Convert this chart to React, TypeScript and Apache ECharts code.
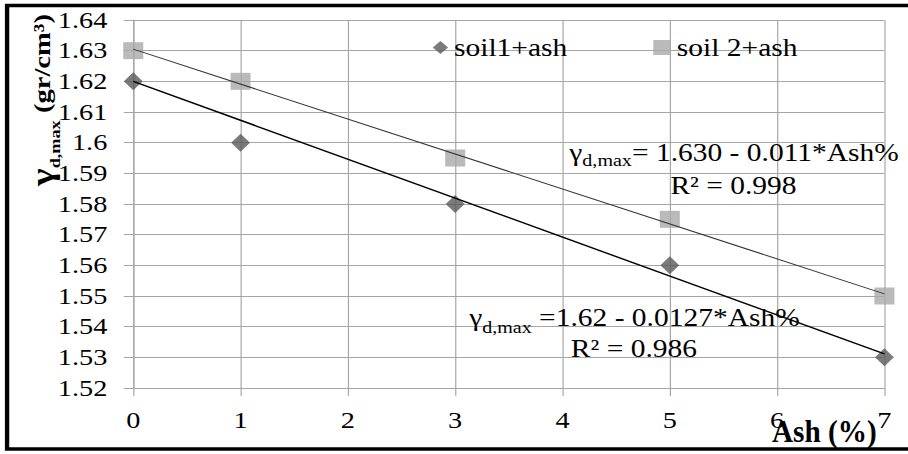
import React, { useEffect, useRef } from 'react';
import * as echarts from 'echarts';

// ---- data ----
const ashPercent = [0, 1, 3, 5, 7];
const soil1Ash = [1.62, 1.6, 1.58, 1.56, 1.53];
const soil2Ash = [1.63, 1.62, 1.595, 1.575, 1.55];
const seriesNames = ['soil1+ash', 'soil 2+ash'];
// trendline: [intercept, slope] and x range
const trendRange = [0, 7];
const soil1Fit = [1.62, -0.0127];
const soil2Fit = [1.6305, -0.0114];
// axes
const xMin = 0, xMax = 7, xStep = 1;
const yMin = 1.52, yMax = 1.64, yStep = 0.01;
// annotation texts
const eq2Main = '= 1.630 - 0.011*Ash%';
const eq2R2 = 'R² = 0.998';
const eq1Main = ' =1.62 - 0.0127*Ash%';
const eq1R2 = 'R² = 0.986';
const yTitleParts = ['γ', 'd,max', ' (gr/cm³)'];
const xTitle = 'Ash (%)';

const W = 770;
const H = 454;
const SX = 908 / W;
const serif = 'Liberation Serif';
const GRID = '#a6a6a6';

export default function App() {
  const ref = useRef<HTMLDivElement>(null);
  useEffect(() => {
    if (!ref.current) return;
    const chart = echarts.init(ref.current, null, { renderer: 'svg' });
    const pts = (ys: number[]) => ashPercent.map((x, i) => [x, ys[i]]);
    const trend = (f: number[]) => trendRange.map((x) => [x, f[0] + f[1] * x]);
    const eqRich = (lh: number) => ({
      g: { fontFamily: serif, fontSize: 25, lineHeight: lh, color: '#000' },
      s: { fontFamily: serif, fontSize: 17, color: '#000', verticalAlign: 'bottom' },
      m: { fontFamily: serif, fontSize: 25, lineHeight: lh, color: '#000' },
    });
    const option: any = {
      animation: false,
      backgroundColor: '#fff',
      textStyle: { fontFamily: serif },
      grid: { left: 113, right: 20, top: 20, bottom: 66 },
      xAxis: {
        type: 'value', min: xMin, max: xMax, interval: xStep,
        axisLine: { show: true, onZero: false, lineStyle: { color: GRID, width: 1 } },
        axisTick: { show: true, length: 8, lineStyle: { color: GRID, width: 1 } },
        axisLabel: { fontFamily: serif, fontSize: 24, color: '#000', margin: 20 },
        splitLine: { show: true, lineStyle: { color: GRID, width: 1 } },
      },
      yAxis: {
        type: 'value', min: yMin, max: yMax, interval: yStep,
        axisLine: { show: true, onZero: false, lineStyle: { color: GRID, width: 1 } },
        axisTick: { show: true, length: 8, lineStyle: { color: GRID, width: 1 } },
        axisLabel: {
          fontFamily: serif, fontSize: 24, color: '#000', margin: 22,
          formatter: (v: number) => String(Math.round(v * 100) / 100),
        },
        splitLine: { show: true, lineStyle: { color: GRID, width: 1 } },
      },
      legend: [
        {
          left: 367, top: 35, padding: 0, itemWidth: 13, itemHeight: 13,
          data: [{ name: seriesNames[0], icon: 'diamond' }],
          textStyle: { fontFamily: serif, fontSize: 25, color: '#000' },
        },
        {
          left: 554, top: 35, padding: 0, itemWidth: 15, itemHeight: 15,
          data: [{ name: seriesNames[1], icon: 'rect' }],
          textStyle: { fontFamily: serif, fontSize: 25, color: '#000' },
        },
      ],
      series: [
        {
          name: seriesNames[0], type: 'scatter', symbol: 'diamond', symbolSize: [16, 18],
          itemStyle: { color: '#5a5a5a' }, data: pts(soil1Ash), z: 2,
        },
        {
          name: seriesNames[1], type: 'scatter', symbol: 'rect', symbolSize: [17, 17],
          itemStyle: { color: '#a9a9a9' }, data: pts(soil2Ash), z: 2,
        },
        {
          name: 'trend1', type: 'line', data: trend(soil1Fit), symbol: 'none', z: 3,
          lineStyle: { color: '#000', width: 1.4 }, silent: true,
        },
        {
          name: 'trend2', type: 'line', data: trend(soil2Fit), symbol: 'none', z: 3,
          lineStyle: { color: '#333', width: 1 }, silent: true,
        },
      ],
      graphic: [
        {
          type: 'rect', z: 100, silent: true,
          shape: { x: 6, y: 5.5, width: 790, height: 443.5 },
          style: { fill: 'none', stroke: '#000', lineWidth: 3.7 },
        },
        {
          type: 'text', z: 50, x: 36, y: 100, rotation: Math.PI / 2, scaleX: 1.3, scaleY: 0.91,
          style: {
            text: `{g|${yTitleParts[0]}}{s|${yTitleParts[1]}}{m|${yTitleParts[2]}}`,
            align: 'center', verticalAlign: 'middle',
            rich: {
              g: { fontFamily: serif, fontWeight: 'bold', fontSize: 29, lineHeight: 38, color: '#000' },
              s: { fontFamily: serif, fontWeight: 'bold', fontSize: 14, color: '#000', verticalAlign: 'bottom' },
              m: { fontFamily: serif, fontWeight: 'bold', fontSize: 22, lineHeight: 38, color: '#000' },
            },
          },
        },
        {
          type: 'text', z: 50, x: 699, y: 431.5, scaleX: 0.8,
          style: {
            text: xTitle, fontFamily: serif, fontWeight: 'bold', fontSize: 31, fill: '#000',
            align: 'center', verticalAlign: 'middle',
          },
        },
        {
          type: 'text', z: 50, x: 622.5, y: 152.6,
          style: {
            text: `{g|γ}{s|d,max}{m|${eq2Main}}`, align: 'center', verticalAlign: 'middle',
            rich: eqRich(32),
          },
        },
        {
          type: 'text', z: 50, x: 622, y: 185.6,
          style: { text: eq2R2, fontFamily: serif, fontSize: 25, fill: '#000', align: 'center', verticalAlign: 'middle' },
        },
        {
          type: 'text', z: 50, x: 538, y: 317.6,
          style: {
            text: `{g|γ}{s|d,max}{m|${eq1Main}}`, align: 'center', verticalAlign: 'middle',
            rich: eqRich(36),
          },
        },
        {
          type: 'text', z: 50, x: 537.6, y: 348.6,
          style: { text: eq1R2, fontFamily: serif, fontSize: 25, fill: '#000', align: 'center', verticalAlign: 'middle' },
        },
      ],
    };
    chart.setOption(option);
    return () => chart.dispose();
  }, []);
  return (
    <div style={{ position: 'absolute', left: 0, top: 0, width: 908, height: 454, overflow: 'hidden', background: '#fff' }}>
      <div
        ref={ref}
        style={{ width: W, height: H, transform: `scaleX(${SX})`, transformOrigin: '0 0' }}
      />
    </div>
  );
}
